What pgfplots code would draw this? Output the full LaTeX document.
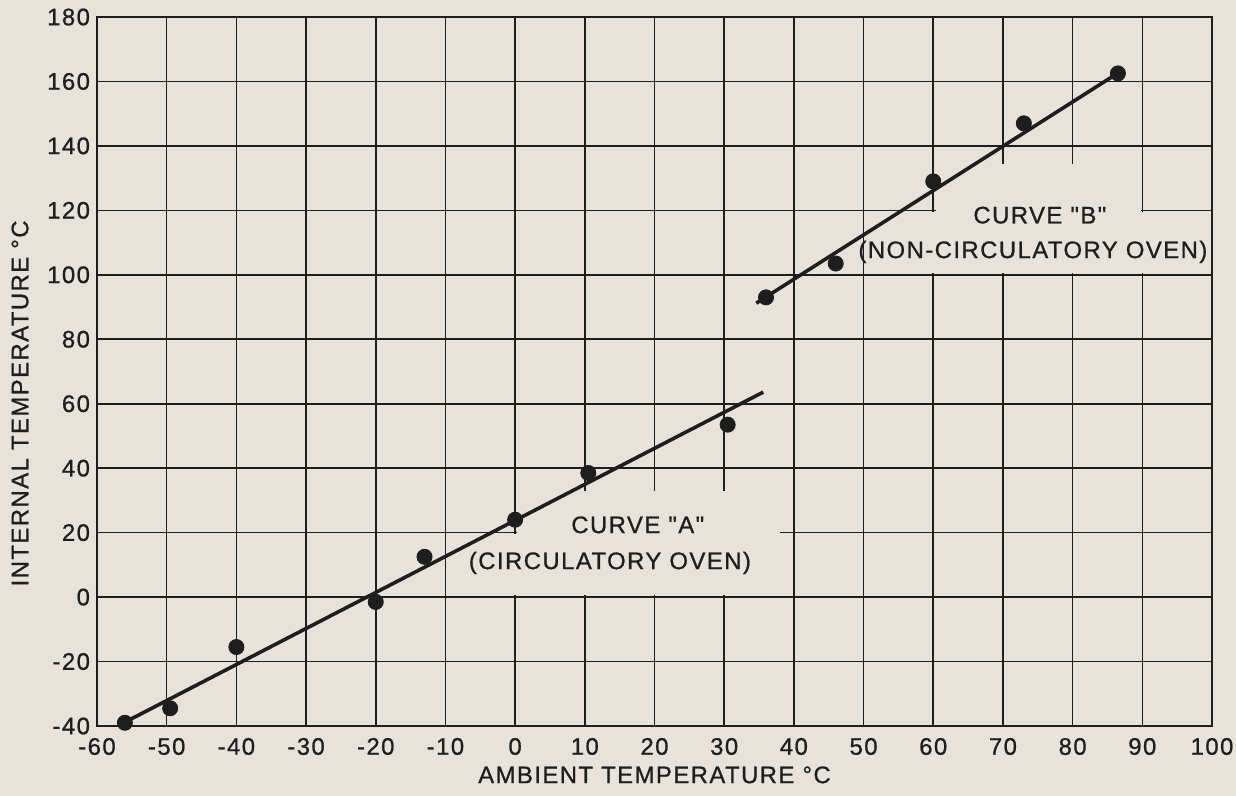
\documentclass[border=0pt]{standalone}
\usepackage{fontspec}
\setmainfont{Liberation Sans}
\usepackage{pgfplots}
\pgfplotsset{compat=1.18}
\definecolor{paper}{RGB}{231,226,218}
\definecolor{ink}{RGB}{30,30,30}
\newfontfamily\lab[LetterSpace=6,FakeBold=0.8]{Liberation Sans}

\pgfplotstableread{
x y
-56 -39
-49.5 -34.5
-40 -15.5
-20 -1.5
-13 12.5
0 24
10.5 38.5
30.5 53.5
}\ptsA
\pgfplotstableread{
x y
36 93
46 103.5
60 129
73 147
86.5 162.5
}\ptsB
\pgfplotstableread{
x y
-56.7 -39.6
35.6 63.6
}\lineA
\pgfplotstableread{
x y
34.6 91.2
86.5 162.6
}\lineB

\begin{document}
\begin{tikzpicture}
\fill[paper] (-48.5bp,-35bp) rectangle (569.5bp,363bp);
\begin{axis}[
 at={(0,0)}, anchor=south west,
 scale only axis, width=557.5bp, height=354.5bp,
 xmin=-60, xmax=100, ymin=-40, ymax=180,
 xtick={-60,-50,...,100}, ytick={-40,-20,...,180},
 xticklabels={-60,-50,-40,-30,-20,-10,0,10,20,30,40,50,60,70,80,90,100},
 yticklabels={-40,-20,0,20,40,60,80,100,120,140,160,180},
 grid=major, major grid style={ink, line width=0.8pt},
 axis line style={ink, line width=0.9pt},
 major tick length=0pt,
 tick label style={font=\lab\fontsize{12}{14}\selectfont, text=ink},
 xticklabel style={yshift=-2.5bp},
 xlabel={AMBIENT TEMPERATURE °C},
 ylabel={INTERNAL TEMPERATURE °C},
 label style={font=\lab\fontsize{12}{14}\selectfont, text=ink},
 xlabel style={at={(axis description cs:0.5,-0.069)}, anchor=center},
 ylabel style={at={(axis description cs:-0.069,0.455)}, anchor=center},
 clip=false,
]
% paper-coloured gaps in the grid behind the curve captions
\fill[paper] (-0.4,0.6) rectangle (38,19.6);
\fill[paper] (0.3,19.4) rectangle (38,33);
\fill[paper] (59.6,100.6) rectangle (90.6,119.6);
\fill[paper] (60.4,119.4) rectangle (89.8,134.5);

\addplot[ink, line width=1.8pt] table[x=x,y=y]{\lineA};
\addplot[ink, line width=1.8pt] table[x=x,y=y]{\lineB};
\addplot[only marks, mark=*, mark size=3.8pt, mark options={fill=ink, draw=ink}] table[x=x,y=y]{\ptsA};
\addplot[only marks, mark=*, mark size=3.8pt, mark options={fill=ink, draw=ink}] table[x=x,y=y]{\ptsB};

\node[font=\lab\fontsize{12}{14}\selectfont, text=ink] at (17.6,22.4) {CURVE "A"};
\node[font=\lab\fontsize{12}{14}\selectfont, text=ink] at (13.6,10.6) {(CIRCULATORY OVEN)};
\node[font=\lab\fontsize{12}{14}\selectfont, text=ink] at (75.3,118.5) {CURVE "B"};
\node[font=\lab\fontsize{12}{14}\selectfont, text=ink] at (74.3,107.1) {(NON-CIRCULATORY OVEN)};
\end{axis}
\pgfresetboundingbox
\useasboundingbox (-48.5bp,-35bp) rectangle (569.5bp,363bp);
\end{tikzpicture}
\end{document}
